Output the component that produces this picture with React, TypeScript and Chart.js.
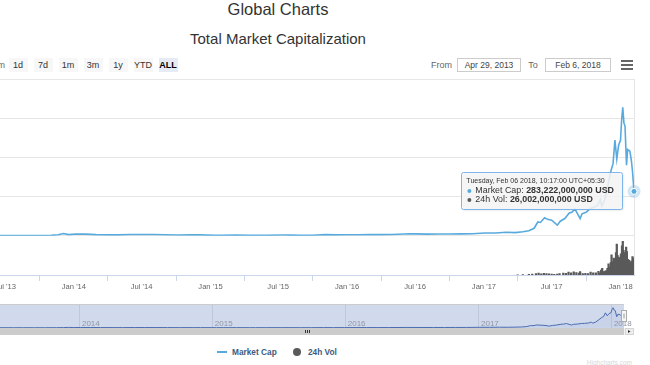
import React, { useEffect, useRef } from 'react';
import { Chart, registerables } from 'chart.js';

Chart.register(...registerables);

const FONT = '"Liberation Sans", Arial, Helvetica, sans-serif';
const LINE_COLOR = '#58aade';
const VOL_COLOR = '#5a5a5a';

// ---------- DATA (market cap & volume in billions USD) ----------
const startDate = '2013-04-29';
const endDate = '2018-02-06';

const mcapDates = [
  '2013-04-29', '2013-06-01', '2013-07-05', '2013-08-01', '2013-09-01', '2013-10-01', '2013-11-01', '2013-11-20',
  '2013-12-04', '2013-12-18', '2014-01-06', '2014-02-01', '2014-03-01', '2014-04-10', '2014-05-01', '2014-06-03',
  '2014-07-01', '2014-08-01', '2014-09-01', '2014-10-05', '2014-11-12', '2014-12-01', '2015-01-14', '2015-02-01',
  '2015-03-10', '2015-04-15', '2015-05-01', '2015-06-01', '2015-07-12', '2015-08-01', '2015-09-01', '2015-10-01',
  '2015-11-04', '2015-12-01', '2016-01-01', '2016-02-01', '2016-03-01', '2016-04-01', '2016-05-01', '2016-06-17',
  '2016-07-01', '2016-08-03', '2016-09-01', '2016-10-01', '2016-11-01', '2016-12-01', '2017-01-04', '2017-02-01',
  '2017-03-01', '2017-03-25', '2017-04-15', '2017-05-01', '2017-05-15', '2017-05-25', '2017-06-01', '2017-06-12',
  '2017-06-20', '2017-07-01', '2017-07-16', '2017-07-24', '2017-08-05', '2017-08-17', '2017-08-24', '2017-09-01',
  '2017-09-15', '2017-09-20', '2017-10-01', '2017-10-12', '2017-10-21', '2017-11-01', '2017-11-08', '2017-11-12',
  '2017-11-20', '2017-11-29', '2017-12-07', '2017-12-12', '2017-12-17', '2017-12-22', '2017-12-27', '2018-01-01',
  '2018-01-04', '2018-01-07', '2018-01-10', '2018-01-13', '2018-01-17', '2018-01-20', '2018-01-26', '2018-01-30',
  '2018-02-02', '2018-02-06',
];
const mcapValues = [
  1.6, 1.3, 1.0, 1.3, 1.6, 1.7, 2.9, 7.0,
  15.0, 7.5, 11.5, 10.6, 7.5, 5.6, 6.0, 8.6,
  8.1, 7.9, 6.6, 4.7, 5.7, 5.6, 2.8, 3.6,
  4.2, 3.5, 3.4, 3.4, 4.7, 4.4, 3.8, 3.8,
  7.2, 5.9, 7.0, 6.7, 7.7, 7.5, 8.3, 12.8,
  12.5, 10.5, 11.5, 11.5, 12.5, 13.5, 18.2, 17.5,
  22.5, 20.5, 26.0, 32.0, 48.0, 88.0, 85.0, 115.0,
  105.0, 100.0, 68.0, 93.0, 110.0, 145.0, 150.0, 172.0,
  110.0, 140.0, 150.0, 175.0, 180.0, 195.0, 230.0, 190.0,
  230.0, 330.0, 420.0, 460.0, 610.0, 490.0, 580.0, 610.0,
  740.0, 820.0, 720.0, 700.0, 450.0, 550.0, 540.0, 480.0,
  410.0, 283.222,
];

const volDates = [
  '2017-04-01', '2017-04-15', '2017-05-01', '2017-05-10',
  '2017-05-20', '2017-05-27', '2017-06-03', '2017-06-10', '2017-06-17', '2017-06-24', '2017-07-01', '2017-07-08',
  '2017-07-16', '2017-07-22', '2017-08-01', '2017-08-08', '2017-08-15', '2017-08-22', '2017-08-29', '2017-09-05',
  '2017-09-12', '2017-09-15', '2017-09-22', '2017-09-29', '2017-10-06', '2017-10-13', '2017-10-20', '2017-10-27',
  '2017-11-03', '2017-11-06', '2017-11-10', '2017-11-13', '2017-11-17', '2017-11-20', '2017-11-24', '2017-11-27',
  '2017-11-30', '2017-12-03', '2017-12-06', '2017-12-08', '2017-12-11', '2017-12-14', '2017-12-17', '2017-12-20',
  '2017-12-22', '2017-12-24', '2017-12-27', '2017-12-30', '2018-01-02', '2018-01-05', '2018-01-07', '2018-01-09',
  '2018-01-12', '2018-01-14', '2018-01-16', '2018-01-18', '2018-01-21', '2018-01-24', '2018-01-27', '2018-01-30',
  '2018-02-02', '2018-02-05', '2018-02-06',
];
const volValues = [
  0.5, 0.6, 1.0, 1.5,
  2.5, 3.5, 2.0, 2.8, 2.5, 2.2, 1.8, 1.4,
  1.8, 2.6, 3.5, 3.2, 5.0, 4.0, 5.5, 4.5,
  3.5, 6.0, 2.5, 3.0, 2.5, 5.0, 4.0, 4.0,
  6.5, 4.0, 9.0, 12.0, 6.0, 7.0, 8.0, 12.0,
  20.0, 14.0, 22.0, 36.0, 24.0, 30.0, 28.0, 40.0,
  55.0, 35.0, 32.0, 30.0, 38.0, 52.0, 60.0, 44.0,
  40.0, 34.0, 50.0, 42.0, 28.0, 26.0, 22.0, 25.0,
  33.0, 30.0, 26.002,
];

const xTickDates = [
  '2013-07-01', '2014-01-01', '2014-07-01', '2015-01-01', '2015-07-01',
  '2016-01-01', '2016-07-01', '2017-01-01', '2017-07-01', '2018-01-01',
];
const xTickLabels = ["Jul '13", "Jan '14", "Jul '14", "Jan '15", "Jul '15", "Jan '16", "Jul '16", "Jan '17", "Jul '17", "Jan '18"];
const navYearDates = ['2014-01-01', '2015-01-01', '2016-01-01', '2017-01-01', '2018-01-01'];
const navYearLabels = ['2014', '2015', '2016', '2017', '2018'];
const priceTicks = [0, 250, 500, 750, 1000];
const volMax = 70;
const navMax = 970;

const rangeButtons = ['1d', '7d', '1m', '3m', '1y', 'YTD', 'ALL'];
const rangeCenters = [18, 43, 68, 93, 118, 143, 168];
const fromText = 'Apr 29, 2013';
const toText = 'Feb 6, 2018';
const tooltipHeader = 'Tuesday, Feb 06 2018, 10:17:00 UTC+05:30';
const seriesNames = ['Market Cap', '24h Vol'];

// ---------- helpers ----------
const day = (d: string) => Date.parse(d + 'T00:00:00Z') / 86400000;
const mcapPoints = mcapDates.map((d, i) => ({ x: day(d), y: mcapValues[i] }));
const volPoints = volDates.map((d, i) => ({ x: day(d), y: volValues[i] }));
const fmtUSD = (b: number) => Math.round(b * 1e9).toLocaleString('en-US') + ' USD';

const mainOverlay = {
  id: 'mainOverlay',
  afterDatasetsDraw(chart: any) {
    const { ctx, chartArea: a } = chart;
    ctx.save();
    // right border of plot
    ctx.strokeStyle = '#e6e6e6';
    ctx.lineWidth = 1;
    const rx = Math.round(a.right) + 0.5;
    ctx.beginPath();
    ctx.moveTo(rx, a.top);
    ctx.lineTo(rx, a.bottom);
    ctx.stroke();

    const meta = chart.getDatasetMeta(0);
    const pt = meta.data[meta.data.length - 1];
    const px = pt.x;
    const py = pt.y;
    // hover halo + marker
    ctx.fillStyle = 'rgba(88,170,222,0.28)';
    ctx.beginPath();
    ctx.arc(px, py, 6.5, 0, Math.PI * 2);
    ctx.fill();
    ctx.fillStyle = LINE_COLOR;
    ctx.strokeStyle = '#ffffff';
    ctx.lineWidth = 1;
    ctx.beginPath();
    ctx.arc(px, py, 3, 0, Math.PI * 2);
    ctx.fill();
    ctx.stroke();

    // tooltip
    const fHead = `7px ${FONT}`;
    const fBody = `8.9px ${FONT}`;
    const fBold = `bold 8.9px ${FONT}`;
    const mVal = fmtUSD(mcapValues[mcapValues.length - 1]);
    const vVal = fmtUSD(volValues[volValues.length - 1]);
    const l1 = seriesNames[0] + ': ';
    const l2 = seriesNames[1] + ': ';
    ctx.font = fHead;
    const wHead = ctx.measureText(tooltipHeader).width;
    ctx.font = fBody;
    const w1a = ctx.measureText(l1).width;
    const w2a = ctx.measureText(l2).width;
    ctx.font = fBold;
    const w1b = ctx.measureText(mVal).width;
    const w2b = ctx.measureText(vVal).width;
    const boxW = Math.max(wHead + 5, 14 + w1a + w1b, 14 + w2a + w2b) + 8;
    const boxH = 37;
    const right = px - 12;
    const left = right - boxW;
    const top = py - boxH / 2 - 1;
    ctx.shadowColor = 'rgba(0,0,0,0.12)';
    ctx.shadowOffsetX = 1;
    ctx.shadowOffsetY = 1;
    ctx.shadowBlur = 2;
    ctx.fillStyle = 'rgba(247,247,247,0.86)';
    ctx.beginPath();
    ctx.roundRect(Math.round(left) + 0.5, Math.round(top) + 0.5, Math.round(boxW), boxH, 2);
    ctx.fill();
    ctx.shadowColor = 'transparent';
    ctx.strokeStyle = '#7cb5ec';
    ctx.lineWidth = 1;
    ctx.stroke();

    ctx.textBaseline = 'middle';
    ctx.textAlign = 'left';
    ctx.fillStyle = '#333333';
    ctx.font = fHead;
    ctx.fillText(tooltipHeader, left + 5, top + 9.5);
    // line 1
    ctx.fillStyle = LINE_COLOR;
    ctx.beginPath();
    ctx.arc(left + 8, top + 19, 2, 0, Math.PI * 2);
    ctx.fill();
    ctx.fillStyle = '#333333';
    ctx.font = fBody;
    ctx.fillText(l1, left + 14, top + 19);
    ctx.font = fBold;
    ctx.fillText(mVal, left + 14 + w1a, top + 19);
    // line 2
    ctx.fillStyle = VOL_COLOR;
    ctx.beginPath();
    ctx.arc(left + 8, top + 28, 2, 0, Math.PI * 2);
    ctx.fill();
    ctx.fillStyle = '#333333';
    ctx.font = fBody;
    ctx.fillText(l2, left + 14, top + 28);
    ctx.font = fBold;
    ctx.fillText(vVal, left + 14 + w2a, top + 28);
    ctx.restore();
  },
};

const navOverlay = {
  id: 'navOverlay',
  beforeDatasetsDraw(chart: any) {
    const { ctx, chartArea: a, scales } = chart;
    ctx.save();
    ctx.strokeStyle = '#e6e6e6';
    ctx.lineWidth = 1;
    navYearDates.forEach((d) => {
      const x = Math.round(scales.x.getPixelForValue(day(d))) + 0.5;
      ctx.beginPath();
      ctx.moveTo(x, a.top);
      ctx.lineTo(x, a.bottom);
      ctx.stroke();
    });
    ctx.fillStyle = 'rgba(102,133,194,0.3)';
    ctx.fillRect(a.left, a.top, a.right - a.left, a.bottom - a.top);
    ctx.restore();
  },
  afterDraw(chart: any) {
    const { ctx, chartArea: a, scales } = chart;
    ctx.save();
    // year labels
    ctx.font = `8px ${FONT}`;
    ctx.fillStyle = '#8f96a3';
    ctx.textBaseline = 'middle';
    ctx.textAlign = 'left';
    navYearDates.forEach((d, i) => {
      const x = scales.x.getPixelForValue(day(d));
      ctx.fillText(navYearLabels[i], x + 3, a.bottom - 4.5);
    });
    // outline
    ctx.strokeStyle = '#cccccc';
    ctx.lineWidth = 1;
    ctx.beginPath();
    ctx.moveTo(a.left, Math.round(a.top) + 0.5);
    ctx.lineTo(a.right, Math.round(a.top) + 0.5);
    ctx.stroke();
    // right handle
    const hx = Math.round(a.right) - 2.5;
    const hy = Math.round((a.top + a.bottom) / 2) - 5.5;
    ctx.fillStyle = '#f7f7f7';
    ctx.strokeStyle = '#aaaaaa';
    ctx.fillRect(hx, hy, 5, 11);
    ctx.strokeRect(hx, hy, 5, 11);
    ctx.strokeStyle = '#999999';
    ctx.beginPath();
    ctx.moveTo(hx + 2.5, hy + 3);
    ctx.lineTo(hx + 2.5, hy + 8);
    ctx.stroke();
    // scrollbar
    const sy = Math.round(a.bottom);
    const sh = 7;
    ctx.fillStyle = '#f2f2f2';
    ctx.fillRect(a.left, sy, a.right - a.left + 9, sh);
    ctx.fillStyle = '#cccccc';
    ctx.fillRect(a.left, sy, a.right - a.left, sh);
    ctx.fillStyle = '#ededed';
    ctx.fillRect(Math.round(a.right) + 1, sy, 8, sh);
    ctx.strokeStyle = '#d5d5d5';
    ctx.strokeRect(Math.round(a.right) + 1.5, sy + 0.5, 8, sh - 1);
    ctx.fillStyle = '#333333';
    const ax = Math.round(a.right) + 5;
    ctx.beginPath();
    ctx.moveTo(ax - 1, sy + 2);
    ctx.lineTo(ax + 1.5, sy + 3.5);
    ctx.lineTo(ax - 1, sy + 5);
    ctx.closePath();
    ctx.fill();
    // grip
    const gx = Math.round((a.left + a.right) / 2);
    ctx.strokeStyle = '#333333';
    ctx.beginPath();
    [-2, 0, 2].forEach((o) => {
      ctx.moveTo(gx + o + 0.5, sy + 2);
      ctx.lineTo(gx + o + 0.5, sy + 5);
    });
    ctx.stroke();
    ctx.restore();
  },
};

export default function App() {
  const mainRef = useRef<HTMLCanvasElement>(null);
  const navRef = useRef<HTMLCanvasElement>(null);

  useEffect(() => {
    Chart.defaults.font.family = FONT;
    const xMin = day(startDate);
    const xMax = day(endDate);
    const main = new Chart(mainRef.current as HTMLCanvasElement, {
      type: 'line',
      data: {
        datasets: [
          {
            type: 'line',
            label: seriesNames[0],
            data: mcapPoints,
            yAxisID: 'y',
            borderColor: LINE_COLOR,
            borderWidth: 1.6,
            pointRadius: 0,
            tension: 0,
          } as any,
          {
            type: 'bar',
            label: seriesNames[1],
            data: volPoints,
            yAxisID: 'yv',
            backgroundColor: VOL_COLOR,
            barThickness: 1.6,
          } as any,
        ],
      },
      options: {
        responsive: false,
        animation: false,
        events: [],
        layout: { padding: { left: 21.5, right: 16, top: 4, bottom: 0 } },
        plugins: { legend: { display: false }, tooltip: { enabled: false } },
        scales: {
          x: {
            type: 'linear',
            min: xMin,
            max: xMax,
            offset: false,
            afterBuildTicks: (axis: any) => {
              axis.ticks = xTickDates.map((d) => ({ value: day(d) }));
            },
            afterFit: (axis: any) => {
              axis.height = 20;
            },
            ticks: {
              autoSkip: false,
              maxRotation: 0,
              padding: 1,
              color: '#666666',
              font: { size: 7.6, family: FONT },
              callback: (v: any) => {
                const i = xTickDates.findIndex((d) => day(d) === v);
                return i >= 0 ? xTickLabels[i] : '';
              },
            },
            grid: { drawOnChartArea: false, drawTicks: true, tickLength: 6, color: '#ccd6eb' },
            border: { display: true, color: '#ccd6eb' },
          },
          yv: {
            type: 'linear',
            position: 'left',
            stack: 'panes',
            stackWeight: 1,
            min: 0,
            max: volMax,
            afterFit: (axis: any) => {
              axis.width = 0;
            },
            ticks: { display: false },
            grid: { display: false },
            border: { display: false },
          },
          y: {
            type: 'linear',
            position: 'left',
            stack: 'panes',
            stackWeight: 4,
            min: priceTicks[0],
            max: priceTicks[priceTicks.length - 1],
            afterBuildTicks: (axis: any) => {
              axis.ticks = priceTicks.map((v) => ({ value: v }));
            },
            afterFit: (axis: any) => {
              axis.width = 0;
            },
            ticks: { display: false },
            grid: { color: '#e6e6e6', drawTicks: false },
            border: { display: false },
          },
        } as any,
      },
      plugins: [mainOverlay],
    });

    const nav = new Chart(navRef.current as HTMLCanvasElement, {
      type: 'line',
      data: {
        datasets: [
          {
            data: mcapPoints,
            borderColor: '#4a6cb0',
            borderWidth: 1,
            backgroundColor: 'rgba(51,92,173,0.06)',
            fill: 'origin',
            pointRadius: 0,
            tension: 0,
          } as any,
        ],
      },
      options: {
        responsive: false,
        animation: false,
        events: [],
        layout: { padding: { left: 9, right: 26, top: 4, bottom: 12 } },
        plugins: { legend: { display: false }, tooltip: { enabled: false } },
        scales: {
          x: { type: 'linear', min: xMin, max: xMax, display: false },
          y: { type: 'linear', min: -10, max: navMax, display: false },
        },
      },
      plugins: [navOverlay],
    });

    return () => {
      main.destroy();
      nav.destroy();
    };
  }, []);

  const abs = (s: any) => ({ position: 'absolute' as const, ...s });

  return (
    <div
      style={{
        position: 'fixed',
        left: 0,
        top: 0,
        width: 650,
        height: 365,
        overflow: 'hidden',
        background: '#ffffff',
        fontFamily: FONT,
        color: '#333333',
      }}
    >
      <div style={abs({ left: 0, top: 0, width: 556, textAlign: 'center', fontSize: 16.5, lineHeight: '18px' })}>
        Global Charts
      </div>
      <div style={abs({ left: 0, top: 30, width: 556, textAlign: 'center', fontSize: 15, lineHeight: '18px' })}>
        Total Market Capitalization
      </div>

      <div style={abs({ left: -40, top: 58, width: 45, textAlign: 'right', fontSize: 9, lineHeight: '14px', color: '#666' })}>
        Zoom
      </div>
      {rangeButtons.map((b, i) => (
        <div
          key={b}
          style={abs({
            left: rangeCenters[i] - 9.5,
            top: 58,
            width: 19,
            height: 14,
            background: b === 'ALL' ? '#e6ebf5' : '#f7f7f7',
            fontSize: 9,
            lineHeight: '14px',
            textAlign: 'center',
            fontWeight: b === 'ALL' ? 'bold' : 'normal',
            color: b === 'ALL' ? '#000' : '#333',
          })}
        >
          {b}
        </div>
      ))}

      <div style={abs({ left: 420, top: 58, width: 32, textAlign: 'right', fontSize: 9, lineHeight: '14px', color: '#666' })}>
        From
      </div>
      <div
        style={abs({
          left: 457,
          top: 58,
          width: 64,
          height: 14,
          boxSizing: 'border-box',
          border: '1px solid #cccccc',
          fontSize: 8.5,
          lineHeight: '12px',
          textAlign: 'center',
          color: '#444',
        })}
      >
        {fromText}
      </div>
      <div style={abs({ left: 526, top: 58, width: 14, textAlign: 'center', fontSize: 9, lineHeight: '14px', color: '#666' })}>
        To
      </div>
      <div
        style={abs({
          left: 545,
          top: 58,
          width: 66,
          height: 14,
          boxSizing: 'border-box',
          border: '1px solid #cccccc',
          fontSize: 8.5,
          lineHeight: '12px',
          textAlign: 'center',
          color: '#444',
        })}
      >
        {toText}
      </div>
      {[61, 65, 69].map((y) => (
        <div key={y} style={abs({ left: 621, top: y - 1, width: 12, height: 1.6, background: '#666' })} />
      ))}

      <canvas
        ref={mainRef}
        width={690}
        height={220}
        style={abs({ left: -40, top: 75, width: 690, height: 220 })}
      />
      <canvas
        ref={navRef}
        width={670}
        height={40}
        style={abs({ left: -20, top: 300, width: 670, height: 40 })}
      />

      <div style={abs({ left: 217, top: 351, width: 10, height: 1.6, background: LINE_COLOR })} />
      <div style={abs({ left: 232, top: 347, fontSize: 8.3, lineHeight: '10px', fontWeight: 'bold', color: '#3c5b7e', whiteSpace: 'nowrap' })}>
        {seriesNames[0]}
      </div>
      <div style={abs({ left: 293, top: 348, width: 8, height: 8, borderRadius: 4, background: VOL_COLOR })} />
      <div style={abs({ left: 308, top: 347, fontSize: 8.3, lineHeight: '10px', fontWeight: 'bold', color: '#3c5b7e', whiteSpace: 'nowrap' })}>
        {seriesNames[1]}
      </div>
      <div style={abs({ left: 560, top: 359, width: 72, textAlign: 'right', fontSize: 6.5, lineHeight: '8px', color: '#d8d8d8' })}>
        Highcharts.com
      </div>
    </div>
  );
}
